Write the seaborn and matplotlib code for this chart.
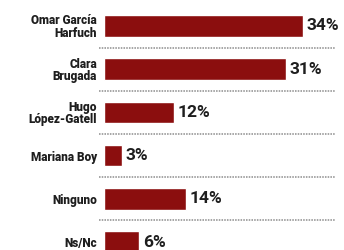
import matplotlib
matplotlib.use("Agg")
import matplotlib.pyplot as plt
import seaborn as sns
import pandas as pd

candidates = ["Omar García\nHarfuch", "Clara\nBrugada", "Hugo\nLópez-Gatell",
              "Mariana Boy", "Ninguno", "Ns/Nc"]
values = [34, 31, 12, 3, 14, 6]
labels = ["34%", "31%", "12%", "3%", "14%", "6%"]

df = pd.DataFrame({"candidate": candidates, "value": values})

sns.set_style("white")
plt.rcParams["font.family"] = ["Roboto", "DejaVu Sans"]

fig = plt.figure(figsize=(3.44, 2.5), dpi=100)
ax = fig.add_axes([104 / 344, 0, 236 / 344, 1])

sns.barplot(data=df, x="value", y="candidate", orient="h", color="#8b0e0e",
            saturation=1, width=0.5, ax=ax)

ax.set_xlim(0, 40.3)
ax.set_ylim(5.185, -0.6)

# dotted separators between rows
for i in range(len(candidates) - 1):
    ax.axhline(i + 0.5, xmin=-0.02, xmax=0.98, color="#a5a5a5",
               linestyle=(0, (0.8, 0.6)), linewidth=1.4, clip_on=False, zorder=3)

for i, (v, lab) in enumerate(zip(values, labels)):
    ax.text(v + 0.6, i, lab, va="center", ha="left", fontsize=12.5,
            fontweight="bold", color="#1e1e1e")

ax.set_xlabel("")
ax.set_ylabel("")
ax.set_xticks([])
ax.tick_params(axis="y", length=0, pad=5)
for t in ax.get_yticklabels():
    t.set_fontsize(8.5)
    t.set_fontweight(900)
    t.set_color("#1e1e1e")
    t.set_linespacing(0.95)
    t.set_multialignment("right")
sns.despine(ax=ax, left=True, bottom=True)

fig.savefig("out.png", dpi=100)
